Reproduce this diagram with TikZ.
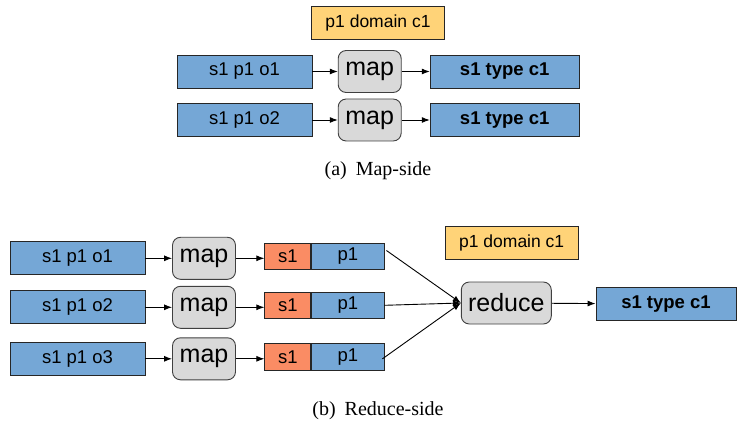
\documentclass[tikz,border=0pt]{standalone}
\usepackage{fontspec}
\usetikzlibrary{arrows.meta}
\setmainfont{Liberation Serif}
\newfontfamily\boxfont{Liberation Sans}
\definecolor{tripleblue}{RGB}{117,167,214}
\definecolor{keyred}{RGB}{250,140,100}
\definecolor{ruleyellow}{RGB}{255,211,120}
\definecolor{taskgray}{RGB}{217,217,217}
\begin{document}
\begin{tikzpicture}[x=1pt, y=-1pt]
		\tikzset{>={Latex[length=8pt,width=6pt]}, every path/.style={line width=0.9pt}}
		\tikzset{triple/.style={draw=black!85, fill=tripleblue, inner sep=0pt, minimum height=33pt, font=\boxfont\fontsize{18.5}{20}\selectfont}}
		\tikzset{task/.style={draw=black!75, fill=taskgray, rounded corners=8pt, inner sep=0pt, minimum height=42pt, font=\boxfont\fontsize{25}{27}\selectfont}}
		\tikzset{rule/.style={draw=black!85, fill=ruleyellow, inner sep=0pt, minimum width=133pt, minimum height=33pt, font=\boxfont\fontsize{17.5}{20}\selectfont}}
		\tikzset{caption/.style={font=\fontsize{20}{22}\selectfont}}
		\useasboundingbox (0,0) rectangle (737,425);
		\node[rule] (doma) at (378,23) {p1 domain c1};
		\node[triple, minimum width=135pt] (ina) at (244.5,71.5) {s1 p1 o1};
		\node[task, minimum width=63pt] (mapa) at (369.7,71.5) {map};
		\node[triple, minimum width=149pt] (outa) at (504.7,71.5) {\bfseries s1 type c1};
		\node[triple, minimum width=135pt] (inb) at (244.5,120) {s1 p1 o2};
		\node[task, minimum width=63pt] (mapb) at (369.7,120) {map};
		\node[triple, minimum width=149pt] (outb) at (504.7,120) {\bfseries s1 type c1};
		\draw [->] (ina) -- (mapa);
		\draw [->] (mapa) -- (outa);
		\draw [->] (inb) -- (mapb);
		\draw [->] (mapb) -- (outb);
		\node[caption] (capa) at (378,171) {(a)\hspace{0.45em}Map-side};
		\foreach \i/\y in {1/258.3, 2/307.3, 3/358.8} {
			\node[triple, minimum width=135pt] (in\i) at (77.5,\y) {s1 p1 o\i};
			\node[task, minimum width=63pt] (map\i) at (204,\y) {map};
			\node[triple, fill=keyred, minimum width=46pt, minimum height=26.7pt] (key\i) at (287.8,\y-2) {s1};
			\node[triple, minimum width=72.3pt, minimum height=26.7pt, anchor=west] (val\i) at (key\i.east) {p1};
			\draw [->] (in\i) -- (map\i);
			\draw [->] (map\i.east) -- (map\i.east -| key\i.west);
		}
		\node[rule] (domb) at (511.7,242.5) {p1 domain c1};
		\node[task, minimum width=90pt] (reduce) at (506.3,303) {reduce};
		\node[triple, minimum width=140pt] (outc) at (666,304) {\bfseries s1 type c1};
		\draw [->] (val1.north east) ++(2,8) -- (reduce.west);
		\draw [->] (val2.east) -- (reduce.west);
		\draw [->] (val3.east) ++(-2,2) -- (reduce.west);
		\draw [->] (reduce) -- (outc);
		\node[caption] (capb) at (378,411) {(b)\hspace{0.45em}Reduce-side};
	\end{tikzpicture}
\end{document}
